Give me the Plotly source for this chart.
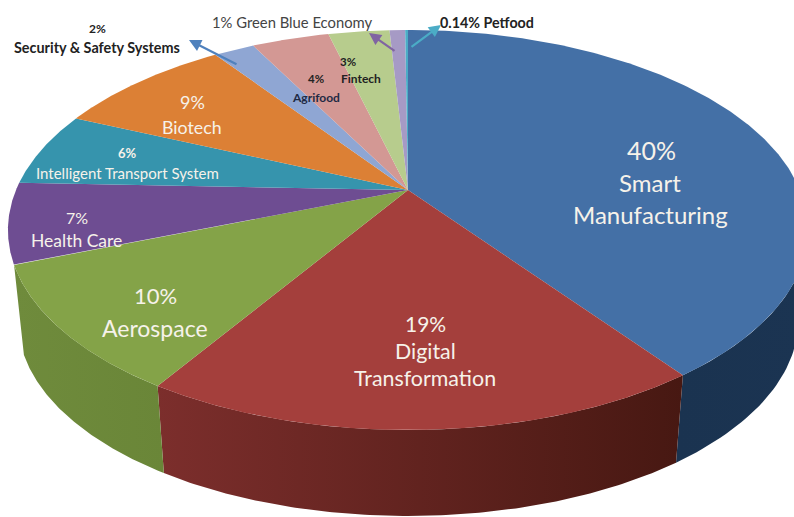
import numpy as np
import plotly.graph_objects as go

sectors = ["Smart Manufacturing", "Digital Transformation", "Aerospace", "Health Care",
           "Intelligent Transport System", "Biotech", "Security & Safety Systems",
           "Agrifood", "Fintech", "Green Blue Economy", "Petfood"]
shares = [40, 18.9, 10.2, 6.5, 6, 8.7, 2, 3.8, 3, 0.76, 0.14]
top_colors = ["#4470a6", "#a43f3c", "#84a348", "#6e4d92", "#3694ad", "#dc8035",
              "#8fa6d3", "#d39894", "#b7cc8d", "#a69ac5", "#4bacc6"]
wall_colors = {
    0: ["#1a3350", "#1b3452"],
    1: ["#7c2e2c", "#471812"],
    2: ["#6f8b3c", "#6a8638"],
}

# projection of the tilted disc
CX, CY, BX, AY, P = 408, 190, 392, 192, 0.2
DEPTH, SHRINK = 92, 0.975


def project(theta, lower=False):
    u, v = np.sin(theta), np.cos(theta)
    den = 1 + P * v
    x, y = BX * u / den, -AY * v / den
    if lower:
        return CX + SHRINK * x, CY + SHRINK * y + DEPTH
    return CX + x, CY + y


fig = go.Figure()
total = sum(shares)
edges = np.concatenate([[0], np.cumsum(shares)]) / total * 2 * np.pi

for i, colors in wall_colors.items():
    th = np.linspace(edges[i], edges[i + 1], 120)
    # keep only the outward-facing (front) part of the rim
    th = th[np.cos(th) < -0.1] if i == 0 else th
    xt, yt = project(th)
    xb, yb = project(th[::-1], lower=True)
    fig.add_trace(go.Scatter(
        x=np.concatenate([xt, xb, xt[:1]]), y=np.concatenate([yt, yb, yt[:1]]),
        mode="lines", line=dict(width=0), fill="toself",
        fillgradient=dict(type="horizontal", colorscale=[[0, colors[0]], [1, colors[1]]]),
        hoverinfo="skip", showlegend=False))

for i, name in enumerate(sectors):
    th = np.linspace(edges[i], edges[i + 1], 200)
    xs, ys = project(th)
    fig.add_trace(go.Scatter(
        x=np.concatenate([[CX], xs, [CX]]), y=np.concatenate([[CY], ys, [CY]]),
        mode="lines", line=dict(width=0), fill="toself", fillcolor=top_colors[i],
        name=name, hoverinfo="name", showlegend=False))

WHITE, DARK = "#f6f2ea", "#222222"
SANS = "Lato, 'Open Sans', sans-serif"
labels = [
    ("40%", 651, 150, 25, WHITE, False), ("Smart", 650, 182, 24, WHITE, False),
    ("Manufacturing", 650, 214, 24, WHITE, False),
    ("19%", 425, 323, 21, WHITE, False), ("Digital", 425, 351, 21.4, WHITE, False),
    ("Transformation", 425, 378, 21.4, WHITE, False),
    ("10%", 155, 295, 22, WHITE, False), ("Aerospace", 155, 328, 23, WHITE, False),
    ("7%", 77, 217, 16, WHITE, False), ("Health Care", 76, 240, 17.5, WHITE, False),
    ("6%", 127, 153, 13, WHITE, True), ("Intelligent Transport System", 127, 173, 15, WHITE, False),
    ("9%", 192, 102, 18, WHITE, False), ("Biotech", 192, 127, 17.8, WHITE, False),
    ("2%", 97, 28, 12, DARK, True), ("Security &amp; Safety Systems", 97, 47, 14.4, DARK, True),
    ("1% Green Blue Economy", 292, 22, 14.8, "#444444", False),
    ("0.14% Petfood", 487, 22, 14.3, DARK, True),
    ("3%", 348, 61, 11.5, DARK, True), ("Fintech", 361, 78, 12, DARK, True),
    ("4%", 316, 78, 11.5, DARK, True), ("Agrifood", 316, 97, 12, "#1f2a44", True),
]
for text, x, y, size, color, bold in labels:
    fig.add_annotation(x=x, y=y, text=f"<b>{text}</b>" if bold else text, showarrow=False,
                       font=dict(family=SANS, size=size, color=color),
                       xanchor="center", yanchor="middle")

arrows = [
    (238, 65, 189, 40, "#4f81bd"),
    (396, 52, 369, 33, "#8064a2"),
    (410, 48, 441, 25, "#4bacc6"),
]
for x0, y0, x1, y1, color in arrows:
    fig.add_annotation(x=x1, y=y1, ax=x0, ay=y0, xref="x", yref="y", axref="x", ayref="y",
                       text="", showarrow=True, arrowhead=2, arrowsize=1.1, arrowwidth=2.2,
                       arrowcolor=color)

fig.update_layout(
    width=794, height=517, margin=dict(l=0, r=0, t=0, b=0),
    paper_bgcolor="white", plot_bgcolor="white", showlegend=False,
    xaxis=dict(range=[0, 794], visible=False, fixedrange=True),
    yaxis=dict(range=[517, 0], visible=False, fixedrange=True),
)
fig.write_html("out.html", config=dict(displayModeBar=False),
               post_script="document.body.style.margin='0';document.body.style.overflow='hidden';")
